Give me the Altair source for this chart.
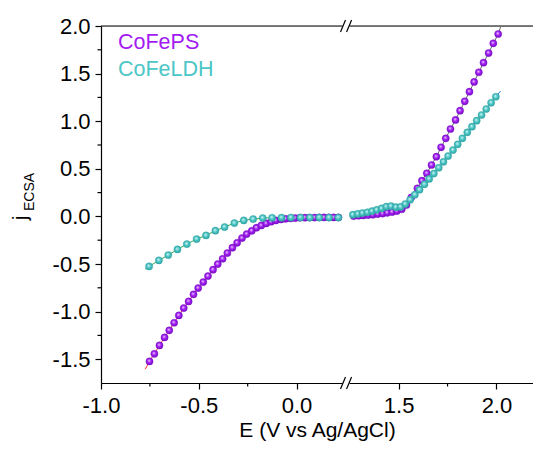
import altair as alt
import pandas as pd

FONT = "Liberation Sans"

# ---------------- data ----------------
# CoFePS, cathodic side (left panel)
ps_left_E = [-0.752, -0.727, -0.701, -0.675, -0.651, -0.626, -0.602, -0.577, -0.552, -0.527,
             -0.503, -0.477, -0.453, -0.427, -0.403, -0.378, -0.354, -0.328, -0.304, -0.279,
             -0.255, -0.229, -0.205, -0.180, -0.155, -0.130, -0.106, -0.080, -0.056, -0.031,
             -0.007, 0.017, 0.043, 0.067, 0.092, 0.116, 0.140, 0.166, 0.190, 0.214]
ps_left_j = [-1.523, -1.443, -1.355, -1.271, -1.197, -1.117, -1.040, -0.963, -0.893, -0.819,
             -0.753, -0.690, -0.627, -0.560, -0.501, -0.445, -0.385, -0.329, -0.277, -0.228,
             -0.186, -0.151, -0.119, -0.095, -0.074, -0.056, -0.042, -0.032, -0.025, -0.021,
             -0.018, -0.014, -0.013, -0.012, -0.012, -0.011, -0.011, -0.011, -0.011, -0.011]
# CoFeLDH, cathodic side (left panel)
ldh_left_E = [-0.754, -0.704, -0.656, -0.609, -0.561, -0.511, -0.463, -0.415, -0.368, -0.318,
              -0.270, -0.222, -0.173, -0.125, -0.077, -0.029, 0.020, 0.068, 0.116, 0.166, 0.214]
ldh_left_j = [-0.525, -0.462, -0.406, -0.347, -0.291, -0.238, -0.200, -0.150, -0.112, -0.070,
              -0.042, -0.028, -0.017, -0.014, -0.013, -0.012, -0.012, -0.012, -0.012, -0.012, -0.012]
# CoFePS, anodic side (right panel)
ps_right_E = [1.270, 1.295, 1.319, 1.344, 1.368, 1.393, 1.418, 1.442, 1.467, 1.491,
              1.516, 1.540, 1.565, 1.596, 1.619, 1.644, 1.668, 1.693, 1.717, 1.741,
              1.765, 1.791, 1.814, 1.838, 1.862, 1.886, 1.910, 1.934, 1.960, 1.984, 2.009]
ps_right_j = [0.004, 0.007, 0.010, 0.014, 0.018, 0.024, 0.030, 0.038, 0.046, 0.056,
              0.075, 0.120, 0.200, 0.295, 0.375, 0.453, 0.540, 0.627, 0.726, 0.820,
              0.918, 1.013, 1.110, 1.209, 1.310, 1.412, 1.514, 1.615, 1.716, 1.818, 1.916]
# CoFeLDH, anodic side (right panel)
ldh_right_E = [1.266, 1.291, 1.315, 1.340, 1.364, 1.388, 1.413, 1.437, 1.461, 1.486,
               1.510, 1.534, 1.559, 1.583, 1.607, 1.632, 1.656, 1.680, 1.705, 1.729,
               1.753, 1.778, 1.802, 1.826, 1.851, 1.875, 1.899, 1.924, 1.948, 1.973, 1.997]
ldh_right_j = [0.018, 0.026, 0.035, 0.043, 0.055, 0.069, 0.084, 0.102, 0.108, 0.097,
               0.100, 0.130, 0.175, 0.228, 0.280, 0.337, 0.394, 0.450, 0.511, 0.573,
               0.634, 0.697, 0.757, 0.820, 0.883, 0.942, 1.006, 1.065, 1.128, 1.194, 1.257]

# fitted-line end points that stick out past the markers
line_ext_seg = ["PS_L", "LDH_L", "PS_R", "LDH_R"]
line_ext_E = [-0.774, -0.774, 2.021, 2.021]
line_ext_j = [-1.606, -0.553, 1.990, 1.317]

series_names = ["CoFePS", "CoFeLDH"]
series_colors = ["#a21cf2", "#4cc6c6"]
line_segs = ["PS_L", "LDH_L", "PS_R", "LDH_R"]
line_colors = ["#ff3030", "#33a852", "#666666", "#2f80e8"]

x_major_E = [-1.0, -0.5, 0.0, 1.5, 2.0]
x_minor_E = [-0.75, -0.25, 1.75]
y_major = [-1.5, -1.0, -0.5, 0.0, 0.5, 1.0, 1.5, 2.0]
y_minor = [-1.25, -0.75, -0.25, 0.25, 0.75, 1.25, 1.75]

X_LO, X_HI = -1.0, 1.209         # plotted (broken) axis range
Y_LO, Y_HI = -1.75, 2.0
RIGHT_SHIFT = 0.978              # right panel: plotted = E - shift
BREAK_U = 0.253                  # break position on plotted axis

W, H = 432, 357


def to_u(e):
    return e if e < 0.6 else e - RIGHT_SHIFT


# ---------------- tables ----------------
rows = []
for name, seg, Es, js in [("CoFePS", "PS_L", ps_left_E, ps_left_j),
                          ("CoFeLDH", "LDH_L", ldh_left_E, ldh_left_j),
                          ("CoFePS", "PS_R", ps_right_E, ps_right_j),
                          ("CoFeLDH", "LDH_R", ldh_right_E, ldh_right_j)]:
    for e, j in zip(Es, js):
        rows.append({"E": e, "u": to_u(e), "j": j, "series": name, "seg": seg})
pts = pd.DataFrame(rows)

lrows = [r.copy() for r in rows]
for s, e, j in zip(line_ext_seg, line_ext_E, line_ext_j):
    lrows.append({"E": e, "u": to_u(e), "j": j, "series": "", "seg": s})
lines_df = pd.DataFrame(lrows).sort_values(["seg", "E"])

xs = alt.Scale(domain=[X_LO, X_HI], nice=False, zero=False)
ys = alt.Scale(domain=[Y_LO, Y_HI], nice=False, zero=False)

minus_fix = "'\u2212', '-'"
x_axis = alt.Axis(
    values=[to_u(v) for v in x_major_E],
    labelExpr=f"replace(format(datum.value > 0.3 ? datum.value + {RIGHT_SHIFT} : datum.value, '.1f'), {minus_fix})",
    tickSize=6, labelPadding=6, labelFontSize=22, labelFont=FONT, labelColor="black",
    title="E (V vs Ag/AgCl)", titleFontSize=21, titleFont=FONT, titleFontWeight="normal",
    titleColor="black", titlePadding=3, domainColor="black", tickColor="black",
    domainWidth=1.2, tickWidth=1.2, grid=False, labelFlush=False,
)
y_axis = alt.Axis(
    values=y_major,
    labelExpr=f"replace(format(datum.value, '.1f'), {minus_fix})",
    tickSize=6, labelPadding=5, labelFontSize=22, labelFont=FONT, labelColor="black",
    title=None, domainColor="black", tickColor="black", domainWidth=1.2, tickWidth=1.2,
    grid=False, labelFlush=False,
)

lines = alt.Chart(lines_df).mark_line(strokeWidth=1, clip=False).encode(
    x=alt.X("u:Q", scale=xs, axis=x_axis),
    y=alt.Y("j:Q", scale=ys, axis=y_axis),
    color=alt.Color("seg:N", scale=alt.Scale(domain=line_segs, range=line_colors), legend=None),
    order="E:Q",
)


def sphere(base, light, dark):
    return alt.RadialGradient(
        gradient="radial",
        stops=[alt.GradientStop(color=light, offset=0.0),
               alt.GradientStop(color=base, offset=0.45),
               alt.GradientStop(color=dark, offset=1.0)],
        x1=0.42, y1=0.38, r1=0.0, x2=0.5, y2=0.5, r2=0.6,
    )


ps_pts = alt.Chart(pts).transform_filter(alt.datum.series == "CoFePS").mark_circle(
    size=52, opacity=1, fill=sphere("#a21cf2", "#f0dcff", "#6a0cb4"),
    stroke="#7a12c8", strokeWidth=0.4,
).encode(x="u:Q", y="j:Q")

ldh_pts = alt.Chart(pts).transform_filter(alt.datum.series == "CoFeLDH").mark_circle(
    size=52, opacity=1, fill=sphere("#4cc6c6", "#e4fafa", "#2a9898"),
    stroke="#30a4a4", strokeWidth=0.4,
).encode(x="u:Q", y="j:Q")

one = pd.DataFrame({"k": [0]})

x_minor_ticks = alt.Chart(pd.DataFrame({"u": [to_u(v) for v in x_minor_E]})).mark_rule(
    color="black", strokeWidth=1.2).encode(x="u:Q", y=alt.value(H), y2=alt.value(H + 3.5))
y_minor_ticks = alt.Chart(pd.DataFrame({"j": y_minor})).mark_rule(
    color="black", strokeWidth=1.2).encode(y="j:Q", x=alt.value(-3.5), x2=alt.value(0))

top_line = alt.Chart(one).mark_rule(color="black", strokeWidth=1.2).encode(
    x=alt.value(0), x2=alt.value(W), y=alt.value(0))

# axis break: white gap + two slashes at top and bottom
du = 0.018
gap_df = pd.DataFrame({"u1": [BREAK_U - du] * 2, "u2": [BREAK_U + du] * 2, "y": [Y_HI, Y_LO]})
gap = alt.Chart(gap_df).mark_rule(color="white", strokeWidth=4).encode(
    x="u1:Q", x2="u2:Q", y="y:Q")
sx, hw, hh = 0.0155, 0.0128, 0.063
sl_rows = []
for yc in [Y_HI, Y_LO]:
    for c in [BREAK_U - sx, BREAK_U + sx]:
        sl_rows.append({"xa": c - hw, "xb": c + hw, "ya": yc - hh, "yb": yc + hh})
slashes = alt.Chart(pd.DataFrame(sl_rows)).mark_rule(color="black", strokeWidth=1.2).encode(
    x="xa:Q", x2="xb:Q", y="ya:Q", y2="yb:Q")

legend_df = pd.DataFrame({"t": series_names, "c": series_colors, "yy": [23.3, 50.0]})
legend = alt.Chart(legend_df).mark_text(
    align="left", baseline="alphabetic", fontSize=21.5, font=FONT).encode(
    x=alt.value(17), y=alt.Y("yy:Q", scale=None), text="t:N",
    color=alt.Color("c:N", scale=None))

ytitle_j = alt.Chart(one).mark_text(
    text="j", angle=270, align="center", baseline="alphabetic", fontSize=21, font=FONT,
    color="black").encode(x=alt.value(-74), y=alt.value(192))
ytitle_sub = alt.Chart(one).mark_text(
    text="ECSA", angle=270, align="center", baseline="alphabetic", fontSize=14, font=FONT,
    color="black").encode(x=alt.value(-67), y=alt.value(166))

chart = alt.layer(
    lines, ps_pts, ldh_pts, x_minor_ticks, y_minor_ticks, top_line, gap, slashes,
    legend, ytitle_j, ytitle_sub,
).properties(
    width=W, height=H,
    autosize=alt.AutoSizeParams(type="none"),
    padding={"left": 93, "top": 18, "right": 0, "bottom": 60},
).configure_view(stroke=None).configure(font=FONT)

chart.save("out.html", embed_options={"renderer": "svg", "actions": False})
